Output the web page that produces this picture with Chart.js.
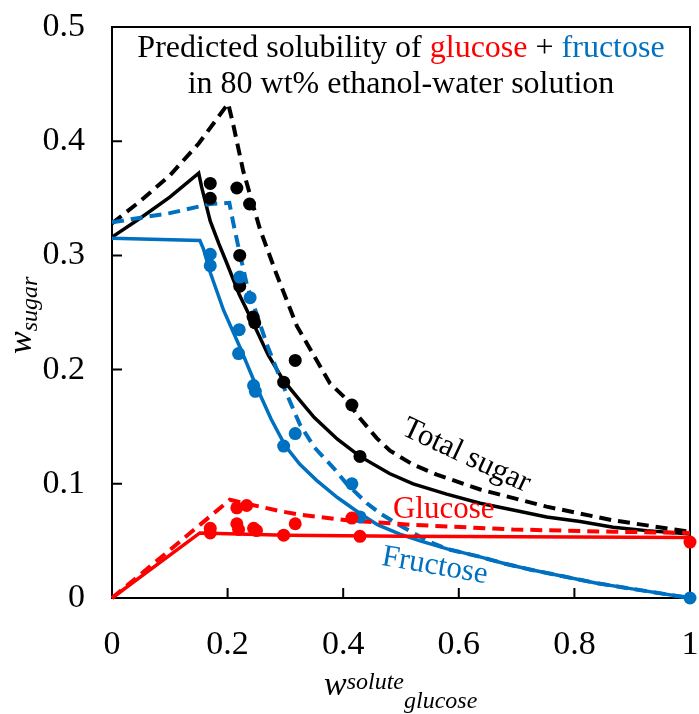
<!DOCTYPE html>
<html lang="en">
<head>
    <meta charset="UTF-8">
    <title>Glucose + fructose solubility in 80 wt% ethanol</title>
    <script src="https://cdn.jsdelivr.net/npm/chart.js"></script>
    <style>
        * {
            margin: 0;
            padding: 0;
            box-sizing: border-box;
        }

        body {
            background: #fff;
            width: 699px;
            height: 714px;
            overflow: hidden;
        }
    </style>
</head>
<body>
    <canvas id="solubilityChart" width="699" height="714"></canvas>

    <script>
        const RED = '#ff0000';
        const BLUE = '#0070c0';
        const BLACK = '#000000';
        const SERIF = "'Liberation Serif', 'Times New Roman', serif";

        const xTickLabels = ['0', '0.2', '0.4', '0.6', '0.8', '1'];
        const yTickLabels = ['0', '0.1', '0.2', '0.3', '0.4', '0.5'];

        // Measured solubilities (dots)
        const totalX = [0.17, 0.17, 0.216, 0.238, 0.221, 0.221, 0.244, 0.247, 0.317, 0.297, 0.415, 0.429];
        const totalY = [0.363, 0.350, 0.359, 0.345, 0.300, 0.273, 0.246, 0.241, 0.208, 0.189, 0.169, 0.124];

        const fructoseX = [0.17, 0.17, 0.221, 0.239, 0.220, 0.219, 0.245, 0.248, 0.317, 0.297, 0.415, 0.429, 1.0];
        const fructoseY = [0.301, 0.291, 0.281, 0.263, 0.235, 0.214, 0.186, 0.181, 0.144, 0.133, 0.100, 0.071, 0.0];

        const glucoseX = [0.17, 0.17, 0.216, 0.233, 0.216, 0.219, 0.245, 0.25, 0.297, 0.317, 0.415, 0.429, 1.0];
        const glucoseY = [0.061, 0.057, 0.079, 0.081, 0.065, 0.060, 0.061, 0.059, 0.055, 0.065, 0.070, 0.054, 0.049];

        // Model predictions, solid curves
        const totalSolidX = [0, 0.05, 0.10, 0.15, 0.155, 0.17, 0.185, 0.198, 0.22, 0.245, 0.27, 0.296, 0.325, 0.35, 0.39, 0.429, 0.48, 0.521, 0.579, 0.637, 0.694, 0.752, 0.81, 0.867, 0.925, 1.0];
        const totalSolidY = [0.316, 0.333, 0.351, 0.372, 0.360, 0.330, 0.310, 0.294, 0.266, 0.240, 0.213, 0.191, 0.173, 0.158, 0.139, 0.124, 0.109, 0.100, 0.091, 0.083, 0.077, 0.071, 0.067, 0.062, 0.059, 0.056];

        const fructoseSolidX = [0, 0.152, 0.158, 0.17, 0.193, 0.221, 0.25, 0.275, 0.30, 0.325, 0.354, 0.39, 0.429, 0.46, 0.498, 0.533, 0.58, 0.637, 0.68, 0.723, 0.78, 0.839, 0.9, 1.0];
        const fructoseSolidY = [0.315, 0.313, 0.306, 0.285, 0.252, 0.220, 0.185, 0.157, 0.133, 0.117, 0.103, 0.088, 0.074, 0.064, 0.056, 0.050, 0.043, 0.036, 0.030, 0.025, 0.019, 0.013, 0.008, 0.0];

        const glucoseSolidX = [0, 0.152, 0.30, 0.50, 1.0];
        const glucoseSolidY = [0, 0.057, 0.055, 0.054, 0.053];

        // Model predictions, dashed curves
        const totalDashX = [0, 0.05, 0.10, 0.15, 0.201, 0.21, 0.227, 0.256, 0.285, 0.32, 0.36, 0.377, 0.406, 0.423, 0.458, 0.481, 0.52, 0.562, 0.637, 0.752, 0.867, 1.0];
        const totalDashY = [0.328, 0.348, 0.370, 0.398, 0.433, 0.414, 0.374, 0.323, 0.283, 0.238, 0.203, 0.188, 0.174, 0.161, 0.140, 0.129, 0.117, 0.108, 0.095, 0.080, 0.068, 0.058];

        const fructoseDashX = [0, 0.05, 0.10, 0.17, 0.203, 0.21, 0.221, 0.233, 0.244, 0.268, 0.296, 0.325, 0.35, 0.383, 0.406, 0.441, 0.464, 0.50, 0.521, 0.55, 0.579, 0.637, 0.68, 0.723, 0.78, 0.839, 0.9, 1.0];
        const fructoseDashY = [0.329, 0.333, 0.337, 0.345, 0.346, 0.328, 0.302, 0.275, 0.258, 0.222, 0.186, 0.152, 0.132, 0.114, 0.100, 0.083, 0.074, 0.063, 0.057, 0.049, 0.043, 0.036, 0.030, 0.025, 0.019, 0.013, 0.008, 0.0];

        const glucoseDashX = [0, 0.10, 0.204, 0.256, 0.291, 0.325, 0.406, 0.521, 0.694, 0.867, 1.0];
        const glucoseDashY = [0, 0.042, 0.086, 0.080, 0.076, 0.073, 0.068, 0.064, 0.060, 0.058, 0.057];

        const toPoints = (xs, ys) => xs.map((x, i) => ({ x: x, y: ys[i] }));

        function dots(xs, ys, color) {
            return {
                data: toPoints(xs, ys),
                showLine: false,
                pointRadius: 6.5,
                pointBackgroundColor: color,
                pointBorderWidth: 0,
                clip: false
            };
        }

        function curve(xs, ys, color, dashed) {
            return {
                data: toPoints(xs, ys),
                showLine: true,
                pointRadius: 0,
                borderColor: color,
                borderWidth: dashed ? 4 : 3.5,
                borderDash: dashed ? [12, 7] : [],
                tension: 0,
                clip: false
            };
        }

        // draw a run of [text, color, font, dy] pieces starting at x
        function drawPieces(ctx, pieces, x, y) {
            pieces.forEach(p => {
                ctx.font = p[2];
                ctx.fillStyle = p[1];
                ctx.fillText(p[0], x, y + (p[3] || 0));
                x += ctx.measureText(p[0]).width;
            });
        }

        function piecesWidth(ctx, pieces) {
            let w = 0;
            pieces.forEach(p => {
                ctx.font = p[2];
                w += ctx.measureText(p[0]).width;
            });
            return w;
        }

        // frame, inward tick marks and tick labels
        const framePlugin = {
            id: 'frame',
            beforeDatasetsDraw(chart) {
                const { ctx, chartArea: a, scales: { x, y } } = chart;
                ctx.save();
                ctx.strokeStyle = BLACK;
                ctx.lineWidth = 2;
                ctx.strokeRect(a.left, a.top, a.right - a.left, a.bottom - a.top);
                ctx.beginPath();
                x.ticks.forEach(t => {
                    const px = x.getPixelForValue(t.value);
                    ctx.moveTo(px, a.bottom);
                    ctx.lineTo(px, a.bottom - 10);
                });
                y.ticks.forEach(t => {
                    const py = y.getPixelForValue(t.value);
                    ctx.moveTo(a.left, py);
                    ctx.lineTo(a.left + 10, py);
                });
                ctx.stroke();

                ctx.fillStyle = BLACK;
                ctx.font = '34px ' + SERIF;
                ctx.textAlign = 'center';
                ctx.textBaseline = 'alphabetic';
                x.ticks.forEach((t, i) => {
                    ctx.fillText(xTickLabels[i], x.getPixelForValue(t.value), 654);
                });
                ctx.textAlign = 'right';
                ctx.textBaseline = 'middle';
                y.ticks.forEach((t, i) => {
                    ctx.fillText(yTickLabels[i], a.left - 27, y.getPixelForValue(t.value));
                });
                ctx.restore();
            }
        };

        // title, curve labels and axis titles
        const textPlugin = {
            id: 'texts',
            afterDraw(chart) {
                const { ctx, chartArea: a, scales: { x, y } } = chart;
                ctx.save();
                ctx.textBaseline = 'alphabetic';
                ctx.textAlign = 'left';

                const tf = '32px ' + SERIF;
                const line1 = [
                    ['Predicted solubility of ', BLACK, tf],
                    ['glucose', RED, tf],
                    [' + ', BLACK, tf],
                    ['fructose', BLUE, tf]
                ];
                const line2 = [['in 80 wt% ethanol-water solution', BLACK, tf]];
                const cx = (a.left + a.right) / 2;
                drawPieces(ctx, line1, cx - piecesWidth(ctx, line1) / 2, 57);
                drawPieces(ctx, line2, cx - piecesWidth(ctx, line2) / 2, 93);

                // curve labels
                ctx.font = '31px ' + SERIF;
                ctx.textAlign = 'center';
                const label = (text, color, vx, vy, deg) => {
                    ctx.save();
                    ctx.translate(x.getPixelForValue(vx), y.getPixelForValue(vy));
                    ctx.rotate(deg * Math.PI / 180);
                    ctx.fillStyle = color;
                    ctx.fillText(text, 0, 0);
                    ctx.restore();
                };
                label('Total sugar', BLACK, 0.607, 0.118, 25);
                label('Glucose', RED, 0.574, 0.070, 0);
                label('Fructose', BLUE, 0.556, 0.021, 10);

                // axis titles with sub/superscripts
                ctx.textAlign = 'left';
                const big = 'italic 34px ' + SERIF;
                const small = 'italic 24px ' + SERIF;
                drawPieces(ctx, [
                    ['w', BLACK, big],
                    ['solute', BLACK, small, -6],
                    ['glucose', BLACK, small, 13]
                ], 324, 695);

                ctx.save();
                ctx.translate(31, 354);
                ctx.rotate(-Math.PI / 2);
                drawPieces(ctx, [
                    ['w', BLACK, big],
                    ['sugar', BLACK, small, 6]
                ], 0, 0);
                ctx.restore();

                ctx.restore();
            }
        };

        new Chart(document.getElementById('solubilityChart'), {
            type: 'scatter',
            data: {
                datasets: [
                    dots(glucoseX, glucoseY, RED),
                    dots(fructoseX, fructoseY, BLUE),
                    dots(totalX, totalY, BLACK),
                    curve(glucoseSolidX, glucoseSolidY, RED, false),
                    curve(glucoseDashX, glucoseDashY, RED, true),
                    curve(fructoseSolidX, fructoseSolidY, BLUE, false),
                    curve(fructoseDashX, fructoseDashY, BLUE, true),
                    curve(totalSolidX, totalSolidY, BLACK, false),
                    curve(totalDashX, totalDashY, BLACK, true)
                ]
            },
            options: {
                responsive: false,
                animation: false,
                layout: { padding: { top: 27, right: 9, left: 0, bottom: 0 } },
                plugins: {
                    legend: { display: false },
                    tooltip: { enabled: false }
                },
                scales: {
                    x: {
                        type: 'linear',
                        min: 0,
                        max: 1,
                        grid: { display: false, drawTicks: false, tickLength: 0 },
                        border: { display: false },
                        ticks: { display: false, stepSize: 0.2 },
                        afterFit: s => { s.height = 116; }
                    },
                    y: {
                        type: 'linear',
                        min: 0,
                        max: 0.5,
                        grid: { display: false, drawTicks: false, tickLength: 0 },
                        border: { display: false },
                        ticks: { display: false, stepSize: 0.1 },
                        afterFit: s => { s.width = 112; }
                    }
                }
            },
            plugins: [framePlugin, textPlugin]
        });
    </script>
</body>
</html>
